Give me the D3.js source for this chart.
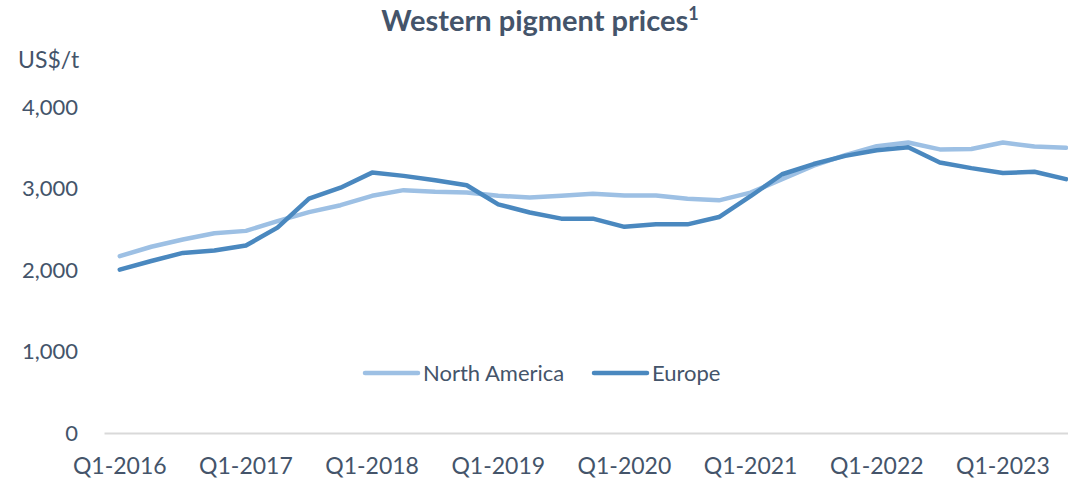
<!DOCTYPE html>
<html>
<head>
<meta charset="utf-8">
<script src="https://cdn.jsdelivr.net/npm/d3@7"></script>
<style>
  body { margin: 0; background: #fff; }
  text { font-family: Lato, "Noto Sans", sans-serif; fill: #44546A; }
</style>
</head>
<body>
<div id="chart"></div>
<script>
var svgWidth = 1068;
var svgHeight = 480;

// quarters Q1-2016 .. Q3-2023
var quarters = [];
for (var yr = 2016; yr <= 2023; yr++) {
    for (var q = 1; q <= 4; q++) {
        if (yr === 2023 && q > 3) break;
        quarters.push('Q' + q + '-' + yr);
    }
}
var northAmerica = [2170, 2285, 2375, 2450, 2480, 2600, 2710, 2795, 2910, 2980, 2960, 2950,
    2910, 2890, 2910, 2935, 2915, 2915, 2875, 2855, 2950, 3115, 3280, 3410, 3520, 3565,
    3480, 3485, 3565, 3515, 3500];
var europe = [2005, 2110, 2210, 2240, 2300, 2520, 2875, 3010, 3195, 3155, 3100, 3040,
    2805, 2705, 2630, 2630, 2530, 2560, 2560, 2650, 2905, 3175, 3300, 3400, 3470, 3505,
    3320, 3250, 3190, 3205, 3115];
var yTicks = [0, 1000, 2000, 3000, 4000];
var seriesNames = ['North America', 'Europe'];
var seriesColors = ['#9DC0E4', '#4A88BF'];

var margin = { left: 104, top: 107, bottom: 47 };
var step = 31.54;

var svg = d3.select('#chart').append('svg')
    .attr('width', svgWidth)
    .attr('height', svgHeight);

var xScale = d3.scaleBand()
    .domain(quarters)
    .range([margin.left, margin.left + step * quarters.length]);

var yScale = d3.scaleLinear()
    .domain([0, 4000])
    .range([svgHeight - margin.bottom, margin.top]);

// title
var title = svg.append('text')
    .attr('x', 540)
    .attr('y', 31)
    .attr('text-anchor', 'middle')
    .attr('font-size', '29px')
    .attr('font-weight', 'bold');
title.append('tspan').text('Western pigment prices');
title.append('tspan').attr('font-size', '18px').attr('dy', '-11').text('1');

svg.append('text')
    .attr('x', 18)
    .attr('y', 68)
    .attr('font-size', '23px')
    .text('US$/t');

// y axis labels
var leftAxis = d3.axisLeft(yScale)
    .tickValues(yTicks)
    .tickSize(0)
    .tickPadding(0)
    .tickFormat(d3.format(','));

svg.append('g')
    .attr('transform', 'translate(78, 0)')
    .call(leftAxis)
    .call(g => g.select('.domain').remove())
    .selectAll('text')
    .attr('font-size', '22px')
    .attr('font-family', 'Lato, "Noto Sans", sans-serif')
    .attr('fill', '#44546A');

// x axis
var bottomAxis = d3.axisBottom(xScale)
    .tickValues(quarters.filter((d, i) => i % 4 === 0))
    .tickSize(0)
    .tickPadding(25);

var xAxis = svg.append('g')
    .attr('transform', `translate(0, ${yScale(0)})`)
    .call(bottomAxis);
xAxis.select('.domain').attr('stroke', '#D9D9D9').attr('stroke-width', 2);
xAxis.selectAll('text')
    .attr('font-size', '23px')
    .attr('font-family', 'Lato, "Noto Sans", sans-serif')
    .attr('fill', '#44546A');

// lines
var line = d3.line()
    .x((d, i) => xScale(quarters[i]) + xScale.bandwidth() / 2)
    .y(d => yScale(d));

[northAmerica, europe].forEach(function (values, k) {
    svg.append('path')
        .datum(values)
        .attr('fill', 'none')
        .attr('stroke', seriesColors[k])
        .attr('stroke-width', 4.5)
        .attr('stroke-linejoin', 'round')
        .attr('stroke-linecap', 'round')
        .attr('d', line);
});

// legend
var legendPos = [365, 594];
var legend = svg.append('g');
seriesNames.forEach(function (name, k) {
    legend.append('line')
        .attr('x1', legendPos[k])
        .attr('x2', legendPos[k] + 53)
        .attr('y1', 373)
        .attr('y2', 373)
        .attr('stroke', seriesColors[k])
        .attr('stroke-width', 4.5)
        .attr('stroke-linecap', 'round');
    legend.append('text')
        .attr('x', legendPos[k] + 58)
        .attr('y', 381)
        .attr('font-size', '22px')
        .text(name);
});
</script>
</body>
</html>
